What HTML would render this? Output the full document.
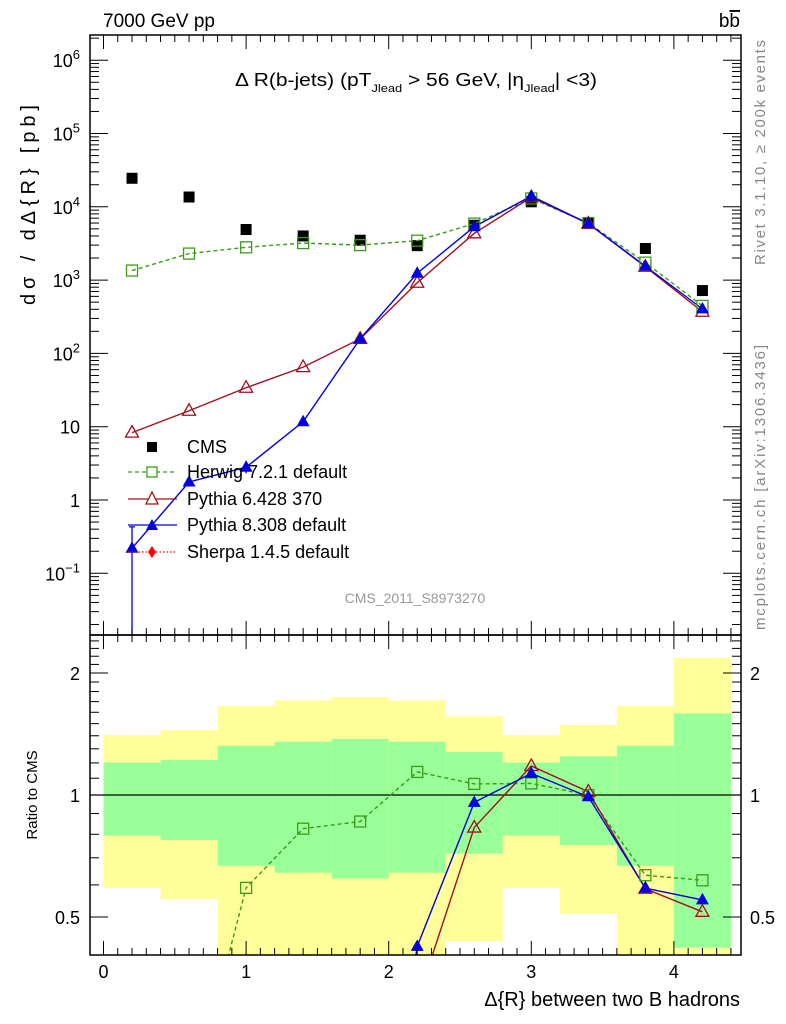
<!DOCTYPE html>
<html><head><meta charset="utf-8"><style>
html,body{margin:0;background:#fff;width:786px;height:1024px;overflow:hidden;}
svg{display:block;font-family:"Liberation Sans",Arial,sans-serif;}
</style></head><body>
<svg id="chart" width="786" height="1024" viewBox="0 0 786 1024" xmlns="http://www.w3.org/2000/svg">
<g id="bands"></g>
<g id="grid"></g>
<g id="series"></g>
<g id="axes"></g>
<text x="103" y="27" font-size="19">7000 GeV pp</text>
<text x="740" y="27" font-size="19" text-anchor="end">b<tspan text-decoration="overline">b</tspan></text>
<text x="235" y="86" font-size="18" textLength="362" lengthAdjust="spacingAndGlyphs">Δ R(b-jets) (pT<tspan font-size="11" dy="6">Jlead</tspan><tspan dy="-6"> &gt;  56 GeV, |η</tspan><tspan font-size="11" dy="6">Jlead</tspan><tspan dy="-6">| &lt;3)</tspan></text>
<text transform="translate(35,305) rotate(-90)" font-size="20" textLength="200" lengthAdjust="spacing">dσ / dΔ{R} [pb]</text>
<text transform="translate(37,795) rotate(-90)" font-size="15" text-anchor="middle">Ratio to CMS</text>
<text transform="translate(765,265) rotate(-90)" font-size="15" fill="#888" textLength="225" lengthAdjust="spacing">Rivet 3.1.10, ≥ 200k events</text>
<text transform="translate(765,630) rotate(-90)" font-size="15" fill="#888" textLength="285" lengthAdjust="spacing">mcplots.cern.ch [arXiv:1306.3436]</text>
<text x="415" y="603" font-size="14" fill="#999" text-anchor="middle">CMS_2011_S8973270</text>
<text x="740" y="1006" font-size="20" text-anchor="end">Δ{R} between two B hadrons</text>
<g font-size="18">
 <rect x="147" y="442" width="10" height="10" fill="#000"/>
 <text x="187" y="453">CMS</text>
 <line x1="128" y1="472" x2="177" y2="472" stroke="#3a9b1a" stroke-dasharray="4,3" stroke-width="1.3"/>
 <rect x="147" y="467" width="10" height="10" fill="#fff" stroke="#3a9b1a" stroke-width="1.3"/>
 <text x="187" y="478">Herwig 7.2.1 default</text>
 <line x1="128" y1="499" x2="177" y2="499" stroke="#a01020" stroke-width="1.3"/>
 <path d="M152,492 L158,504 L146,504 Z" fill="#fff" stroke="#a01020" stroke-width="1.3"/>
 <text x="187" y="505">Pythia 6.428 370</text>
 <line x1="128" y1="525" x2="177" y2="525" stroke="#0000e0" stroke-width="1.3"/>
 <path d="M152,519 L158,530 L146,530 Z" fill="#0000e0"/>
 <text x="187" y="531">Pythia 8.308 default</text>
 <line x1="128" y1="552" x2="177" y2="552" stroke="#f00" stroke-dasharray="1.5,2" stroke-width="1.3"/>
 <path d="M152,546 L156,552 L152,558 L148,552 Z" fill="#f00"/>
 <text x="187" y="558">Sherpa 1.4.5 default</text>
</g>
</svg>
<script>
const binCenters=[0.2,0.6,1.0,1.4,1.8,2.2,2.6,3.0,3.4,3.8,4.2];
const cmsValues=[24500,13600,4900,4000,3500,2950,5600,11700,6000,2700,720];
const herwigValues=[1350,2300,2800,3200,3000,3450,5900,13000,6000,1730,445];
const pythia6Values=[8.3,16.5,34,65,158,920,4350,13500,5900,1520,370];
const pythia8Values=[0.22,1.76,2.8,11.7,158,1240,5350,14000,5900,1550,405];
const herwigRatio=[0.054,0.17,0.59,0.826,0.86,1.14,1.065,1.068,1.0,0.634,0.616];
const pythia6Ratio=[0.0003,0.0012,0.007,0.016,0.045,0.31,0.831,1.179,1.019,0.587,0.515];
const pythia8Ratio=[0.00001,0.00013,0.0006,0.003,0.045,0.423,0.959,1.131,0.99,0.589,0.551];
const greenUp=[1.202,1.220,1.323,1.354,1.375,1.354,1.277,1.202,1.246,1.323,1.59];
const greenLo=[0.794,0.774,0.669,0.643,0.622,0.643,0.717,0.794,0.753,0.669,0.42];
const yellowUp=[1.406,1.447,1.658,1.712,1.745,1.712,1.564,1.406,1.489,1.658,2.18];
const yellowLo=[0.590,0.553,0.3,0.3,0.3,0.3,0.436,0.590,0.509,0.3,0.40];
const xTicks=[0,1,2,3,4];
const mainTicks=[0.1,1,10,100,1000,1e4,1e5,1e6];
const mainTickLabels=["10\u207B\u00B9","1","10","10\u00B2","10\u00B3","10\u2074","10\u2075","10\u2076"];
const ratioTicks=[0.5,1,2];
const ratioTickLabels=["0.5","1","2"];

const NS="http://www.w3.org/2000/svg";
const L=90,R=741,T=35,M=635,B=955;
const xs=v=>103.5+(v)*142.6;
const ys=v=>500-Math.log10(v)*73.3;
const yr=v=>795-Math.log2(v)*122;
function mk(tag,attrs,parent){const e=document.createElementNS(NS,tag);for(const k in attrs)e.setAttribute(k,attrs[k]);parent.appendChild(e);return e;}
const bands=document.getElementById('bands'),series=document.getElementById('series'),axes=document.getElementById('axes');
const clipR=mk('clipPath',{id:'cr'},document.getElementById('chart'));mk('rect',{x:L,y:M,width:R-L,height:B-M},clipR);
const clipM=mk('clipPath',{id:'cm'},document.getElementById('chart'));mk('rect',{x:L,y:T,width:R-L,height:M-T},clipM);
bands.setAttribute('clip-path','url(#cr)');
binCenters.forEach((c,i)=>{
 const x0=xs(c-0.2),x1=xs(c+0.2);
 const y=mk('rect',{x:x0,y:yr(yellowUp[i]),width:x1-x0,height:yr(yellowLo[i])-yr(yellowUp[i]),fill:'#ffff99'},bands);
 
 
 const g=mk('rect',{x:x0,y:yr(greenUp[i]),width:x1-x0,height:yr(greenLo[i])-yr(greenUp[i]),fill:'#99ff99'},bands);
 
 
});
const one=mk('line',{x1:L,x2:R,y1:yr(1),y2:yr(1),stroke:'#000','stroke-width':1.3},bands);



function tri(x,y,fill,stroke,p,name){const t=mk('path',{d:`M${x},${y-7} L${x+6.5},${y+4.5} L${x-6.5},${y+4.5} Z`,fill:fill,stroke:stroke,'stroke-width':1.3},p);}
function sq(x,y,fill,stroke,p,name){const s=mk('rect',{x:x-5.5,y:y-5.5,width:11,height:11,fill:fill,stroke:stroke||'none','stroke-width':1.3},p);}
function line(vals,yf,color,dash,p,name){const d=vals.map((v,i)=>(i?'L':'M')+xs(binCenters[i])+','+yf(v)).join(' ');const l=mk('path',{d:d,fill:'none',stroke:color,'stroke-width':1.4,'stroke-dasharray':dash||'none'},p);}
const gm=mk('g',{'clip-path':'url(#cm)'},series);
const gr=mk('g',{'clip-path':'url(#cr)'},series);
cmsValues.forEach((v,i)=>sq(xs(binCenters[i]),ys(v),'#000',null,gm,'cms-point-'+i));
line(herwigValues,ys,'#3a9b1a','4,3',gm,'herwig-line');
line(pythia6Values,ys,'#a01020',null,gm,'pythia6-line');
line(pythia8Values,ys,'#0000e0',null,gm,'pythia8-line');
const eb=mk('path',{d:`M${xs(0.2)},${ys(0.43)} L${xs(0.2)},${M} M${xs(0.2)-3},${ys(0.43)} L${xs(0.2)+3},${ys(0.43)} M${xs(1.0)},${ys(3.4)} L${xs(1.0)},${ys(2.3)}`,stroke:'#0000e0','stroke-width':1.3,fill:'none'},gm);


herwigValues.forEach((v,i)=>sq(xs(binCenters[i]),ys(v),'none','#3a9b1a',gm,'herwig-point-'+i));
pythia6Values.forEach((v,i)=>tri(xs(binCenters[i]),ys(v),'none','#a01020',gm,'pythia6-point-'+i));
pythia8Values.forEach((v,i)=>tri(xs(binCenters[i]),ys(v),'#0000e0','none',gm,'pythia8-point-'+i));
line(herwigRatio,yr,'#3a9b1a','4,3',gr,'herwig-ratio-line');
line(pythia6Ratio,yr,'#a01020',null,gr,'pythia6-ratio-line');
line(pythia8Ratio,yr,'#0000e0',null,gr,'pythia8-ratio-line');
herwigRatio.forEach((v,i)=>sq(xs(binCenters[i]),yr(v),'none','#3a9b1a',gr,'herwig-ratio-point-'+i));
pythia6Ratio.forEach((v,i)=>tri(xs(binCenters[i]),yr(v),'none','#a01020',gr,'pythia6-ratio-point-'+i));
pythia8Ratio.forEach((v,i)=>tri(xs(binCenters[i]),yr(v),'#0000e0','none',gr,'pythia8-ratio-point-'+i));

[[T,M],[M,B]].forEach(([a,b],k)=>{const f=mk('rect',{x:L,y:a,width:R-L,height:b-a,fill:'none',stroke:'#000','stroke-width':1.5},axes);});
for(let v=0;v<=4.45;v+=0.1){const x=xs(v);const maj=Math.abs(v-Math.round(v))<0.01;const h=maj?14:7;
 mk('line',{x1:x,x2:x,y1:B,y2:B-h,stroke:'#000'},axes);mk('line',{x1:x,x2:x,y1:M,y2:M+h,stroke:'#000'},axes);
 mk('line',{x1:x,x2:x,y1:T,y2:T+h,stroke:'#000'},axes);mk('line',{x1:x,x2:x,y1:M,y2:M-h,stroke:'#000'},axes);}
xTicks.forEach(v=>{const t=mk('text',{x:xs(v),y:978,'font-size':18,'text-anchor':'middle'},axes);t.textContent=v;});
for(let e=-2;e<=6;e++){for(let m=1;m<10;m++){const v=m*Math.pow(10,e);const y=ys(v);if(y<T||y>M)continue;const h=m==1?18:9;
 mk('line',{x1:L,x2:L+h,y1:y,y2:y,stroke:'#000'},axes);mk('line',{x1:R,x2:R-h,y1:y,y2:y,stroke:'#000'},axes);}}
mainTicks.forEach((v,i)=>{const t=mk('text',{x:80,y:ys(v)+7,'font-size':18,'text-anchor':'end'},axes);const s=mainTickLabels[i];
 if(s.startsWith('10')&&s.length>2){t.textContent='10';const sp=mk('tspan',{dy:-8,'font-size':13},t);sp.textContent={"\u207B\u00B9":"\u22121","\u00B2":"2","\u00B3":"3","\u2074":"4","\u2075":"5","\u2076":"6"}[s.slice(2)];}else t.textContent=s;
 });
for(let v=0.4;v<=2.5;v+=0.1){const y=yr(v);if(y<M||y>B)continue;const maj=ratioTicks.some(r=>Math.abs(r-v)<0.01);const h=maj?18:9;
 mk('line',{x1:L,x2:L+h,y1:y,y2:y,stroke:'#000'},axes);mk('line',{x1:R,x2:R-h,y1:y,y2:y,stroke:'#000'},axes);}
ratioTicks.forEach((v,i)=>{[[80,'end'],[750,'start']].forEach(([x,a])=>{const t=mk('text',{x:x,y:yr(v)+7,'font-size':18,'text-anchor':a},axes);t.textContent=ratioTickLabels[i];});});
</script>
</body></html>
